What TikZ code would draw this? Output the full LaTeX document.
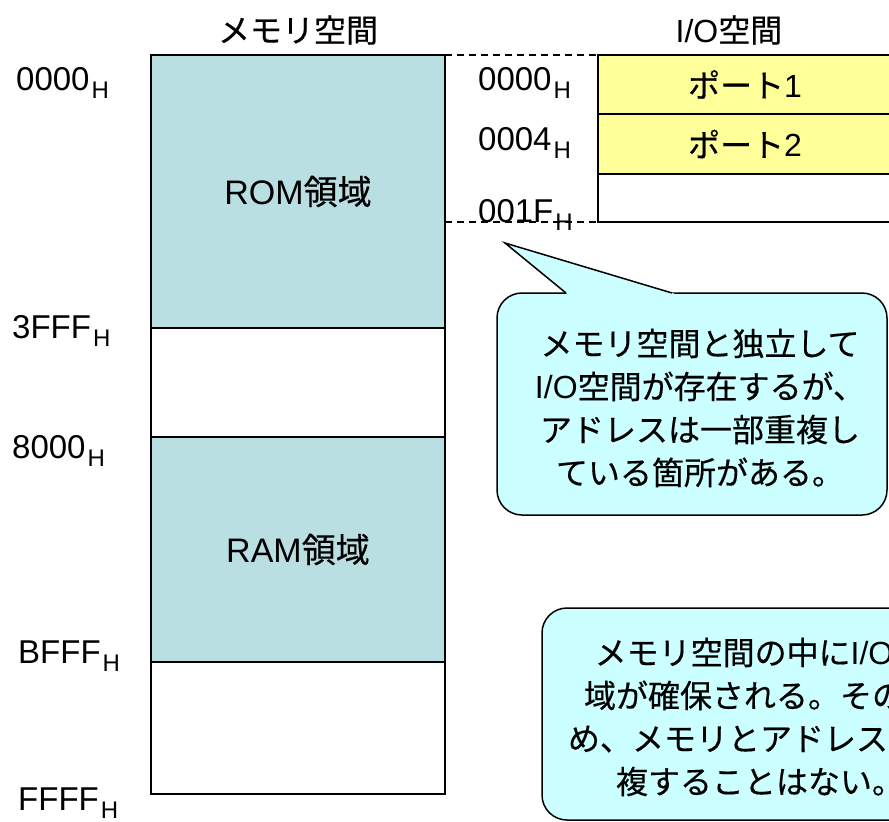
\documentclass[tikz,border=0pt]{standalone}
\usepackage{fontspec}
\setmainfont{Liberation Sans}
\newfontfamily\jp{Noto Sans CJK JP}[FakeBold=0.4]
\newfontfamily\lat{Liberation Sans}
\definecolor{romcol}{HTML}{B9DFE2}
\definecolor{portcol}{HTML}{FFFF99}
\definecolor{callcol}{HTML}{CCFFFF}
\newcommand{\hexaddr}[1]{#1\kern2pt\raisebox{-8pt}{\fontsize{24}{24}\selectfont H}}
\begin{document}
\begin{tikzpicture}[x=1pt,y=-1pt,
  region/.style={draw=black, line width=2pt, minimum width=294pt, inner sep=0pt, outer sep=0pt,
    font=\fontsize{32}{38}\selectfont},
  lbl/.style={inner sep=0pt, font=\fontsize{32}{38}\selectfont},
  addrlbl/.style={inner sep=0pt, anchor=base west, font=\fontsize{33}{38}\selectfont},
  jtext/.style={inner sep=0pt, font=\jp\fontsize{32}{43}\selectfont, align=center},
  callout/.style={draw=black, line width=1.5pt, fill=callcol},
  sepline/.style={draw=black, dash pattern=on 7pt off 5pt, line width=1.5pt}]
\useasboundingbox (0,0) rectangle (889,822);
\clip (0,0) rectangle (889,822);
\fill[white] (0,0) rectangle (889,822);

% titles
\node[lbl, font=\jp\fontsize{32}{38}\selectfont] (memtitle) at (298,30) {メモリ空間};
\node[lbl] (iotitle) at (729,30) {I/O{\jp 空間}};

% memory space
\node[region, fill=romcol, minimum height=273pt, font=\fontsize{34}{40}\selectfont] (rom) at (298,191.5) {ROM{\jp 領域}};
\node[region, fill=white, minimum height=109pt] (gap1) at (298,382.5) {};
\node[region, fill=romcol, minimum height=225pt, font=\fontsize{34}{40}\selectfont] (ram) at (298,549.5) {RAM{\jp 領域}};
\node[region, fill=white, minimum height=132pt] (gap2) at (298,728) {};

% I/O space
\node[region, fill=portcol, minimum height=59pt] (p1) at (745,84.5) {{\jp ポート}1};
\node[region, fill=portcol, minimum height=60pt] (p2) at (745,144) {{\jp ポート}2};
\node[region, fill=white, minimum height=48pt] (iofree) at (745,198) {};

% memory addresses
\node[addrlbl] (a0000) at (16,90) {\hexaddr{0000}};
\node[addrlbl] (a3fff) at (12,338) {\hexaddr{3FFF}};
\node[addrlbl] (a8000) at (12,458) {\hexaddr{8000}};
\node[addrlbl] (abfff) at (18,663) {\hexaddr{BFFF}};
\node[addrlbl] (affff) at (18,810) {\hexaddr{FFFF}};

% I/O addresses
\node[addrlbl] (io0000) at (478,90) {\hexaddr{0000}};
\node[addrlbl] (io0004) at (478,150) {\hexaddr{0004}};
\node[addrlbl] (io001f) at (478,222) {\hexaddr{001F}};

% dashed correspondence lines
\coordinate (memlow) at (445,222);
\draw[sepline] (rom.north east) -- (p1.north west);
\draw[sepline] (memlow) -- (iofree.south west);

% callout 1
\coordinate (tip) at (505,243);
\coordinate (bl) at (566,293);
\coordinate (br) at (672,293);
\draw[callout, rounded corners=25pt] (497,293) rectangle (887,515);
\fill[callcol] (tip) -- (567.8,294.5) -- (677,294.5) -- cycle;
\draw[line width=1.5pt, line join=miter] (bl) -- (tip) -- (br);
\node[jtext] (c1) at (700,408) {メモリ空間と独立して\\{\lat I/O}空間が存在するが、\\アドレスは一部重複し\\ている箇所がある。};

% callout 2
\draw[callout, rounded corners=25pt] (542,608) rectangle (968,820);
\node[jtext] (c2) at (760,717) {メモリ空間の中に{\lat I/O}領\\域が確保される。そのた\\め、メモリとアドレスが重\\複することはない。};
\end{tikzpicture}
\end{document}
